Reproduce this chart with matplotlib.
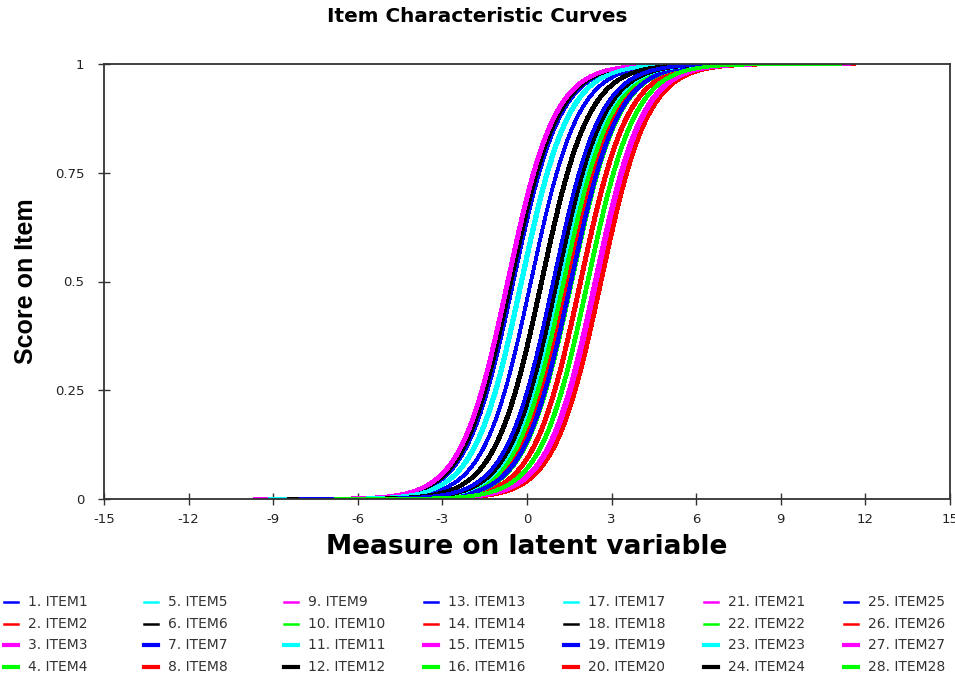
import numpy as np
import matplotlib
matplotlib.use("Agg")
import matplotlib.pyplot as plt
from matplotlib.lines import Line2D

plt.rcParams["axes.unicode_minus"] = False

# item labels and estimated difficulties (logits where each curve crosses 0.5)
items = ["%d. ITEM%d" % (i, i) for i in range(1, 29)]
difficulty = [-0.48, 1.42, -0.70, 1.27, -0.22, -0.56, 0.14,
              1.88, -0.66, 1.31, -0.17, 0.50, 1.55, 1.92,
              2.40, 1.60, 1.02, 0.54, 1.57, 2.60, 2.44,
              2.14, 1.15, 1.07, 0.93, 2.64, 2.47, 2.17]
palette = ["#0000ff", "#ff0000", "#ff00ff", "#00ff00", "#00ffff", "#000000"]
colors = [palette[i % 6] for i in range(28)]
slope = 1.2

xticks = [-15, -12, -9, -6, -3, 0, 3, 6, 9, 12, 15]
yticks = [0, 0.25, 0.5, 0.75, 1]
yticklabels = ["0", "0.25", "0.5", "0.75", "1"]
span = 9.0   # each curve is drawn from b-9 to b+9

W, H = 955, 680
fig = plt.figure(figsize=(W / 100, H / 100), dpi=100)
ax = fig.add_axes([104 / W, 1 - 499 / H, (950 - 104) / W, (499 - 64) / H])

for b, c, lab in zip(difficulty, colors, items):
    x = np.linspace(b - span, b + span, 500)
    p = 1 / (1 + np.exp(-slope * (x - b)))
    ax.plot(x, p, color=c, lw=2.0, label=lab, antialiased=False,
            solid_capstyle="butt")

ax.set_xlim(-15, 15)
ax.set_ylim(0, 1)
ax.set_xticks(xticks)
ax.set_yticks(yticks)
ax.set_yticklabels(yticklabels)
ax.tick_params(direction="inout", length=8, width=1, color="#333333",
               labelsize=9.5, labelcolor="#222222")
ax.tick_params(axis="x", pad=6)
ax.tick_params(axis="y", pad=10)
for s in ax.spines.values():
    s.set_color("#333333")
    s.set_linewidth(1.3)

fig.text(477 / W, 1 - 16 / H, "Item Characteristic Curves", ha="center",
         va="center", fontsize=14.4, fontweight="bold")
fig.text(527 / W, 1 - 547 / H, "Measure on latent variable", ha="center",
         va="center", fontsize=19, fontweight="bold")
fig.text(26 / W, 1 - 281 / H, "Score on Item", ha="center", va="center",
         rotation=90, fontsize=18, fontweight="bold",
         family=["Liberation Sans", "DejaVu Sans"])

# legend: 7 columns, 4 rows, column-major order
for i, (lab, c) in enumerate(zip(items, colors)):
    col, row = divmod(i, 4)
    x0 = 4 + col * 140
    y0 = 1 - (602 + row * 21.7) / H
    lw = 1.8 if row < 2 else 3.0
    fig.add_artist(Line2D([x0 / W, (x0 + 14) / W], [y0, y0], color=c, lw=lw))
    fig.text((x0 + 24) / W, y0, lab, va="center", ha="left", fontsize=10,
             color="#333333")

fig.savefig("out.png", dpi=100)
